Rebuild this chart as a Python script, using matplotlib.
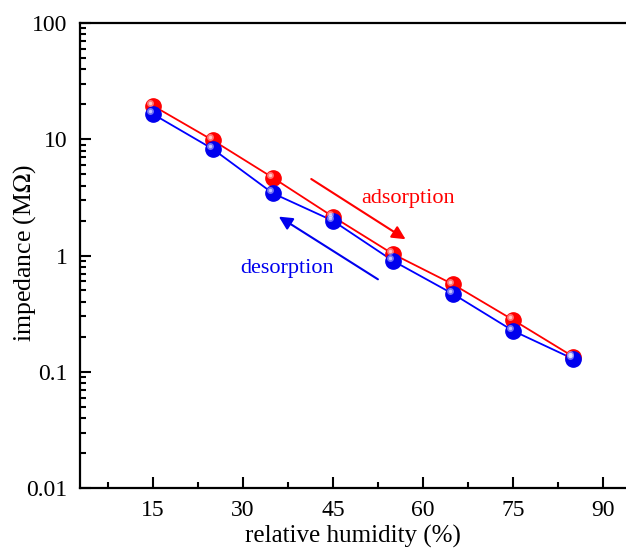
import numpy as np
import matplotlib
matplotlib.use("Agg")
import matplotlib.pyplot as plt
import matplotlib.transforms as mtransforms
from matplotlib.ticker import FixedLocator, NullFormatter

plt.rcParams['font.family'] = ['Liberation Serif', 'DejaVu Serif']
plt.rcParams['mathtext.fontset'] = 'stix'

# data
rh = [15, 25, 35, 45, 55, 65, 75, 85]
z_ads = [19.5, 9.8, 4.67, 2.16, 1.03, 0.565, 0.279, 0.135]
z_des = [16.5, 8.25, 3.43, 1.99, 0.90, 0.467, 0.225, 0.129]
xticks = [15, 30, 45, 60, 75, 90]
yticks = [0.01, 0.1, 1, 10, 100]
ylabels = ['0.01', '0.1', '1', '10', '100']

fig = plt.figure(figsize=(6.26, 5.49), dpi=100)
ax = fig.add_axes([80/626, 1 - 488/549, 1 - 80/626, (488 - 23)/549])

def balls(x, y, col):
    # ball-looking marker: solid disc plus a small pale highlight
    ax.plot(x, y, 'o', ms=11, color=col, mec=col, zorder=3)
    off = mtransforms.ScaledTranslation(-2/72, 2/72, fig.dpi_scale_trans)
    ax.plot(x, y, 'o', ms=5, color='white', mec='none', alpha=0.45,
            transform=ax.transData + off, zorder=4)
    ax.plot(x, y, 'o', ms=2.5, color='white', mec='none', alpha=0.6,
            transform=ax.transData + off, zorder=4)

ax.plot(rh, z_ads, '-', color='#ff0000', lw=1.3, zorder=2)
ax.plot(rh, z_des, '-', color='#0000ff', lw=1.3, zorder=2)
balls(rh, z_ads, '#ff0000')
balls(rh, z_des, '#0000ee')

ax.set_yscale('log')
ax.set_xlim(2.9, 93.8)
ax.set_ylim(0.01, 100)

ax.xaxis.set_major_locator(FixedLocator(xticks))
ax.xaxis.set_minor_locator(FixedLocator([7.5, 22.5, 37.5, 52.5, 67.5, 82.5]))
ax.set_yticks(yticks)
ax.set_yticklabels(ylabels)
ax.yaxis.set_minor_formatter(NullFormatter())

ax.tick_params(which='both', direction='in', top=False, right=False,
               width=1.5, labelsize=17, pad=9)
ax.tick_params(which='major', length=8)
ax.tick_params(which='minor', length=4.5)

for s in ['left', 'bottom', 'top']:
    ax.spines[s].set_linewidth(1.6)
ax.spines['right'].set_visible(False)

ax.set_xlabel('relative humidity (%)', fontsize=18)
ax.set_ylabel('impedance (M$\\Omega$)', fontsize=18.5)
ax.xaxis.set_label_coords(0.5, -0.08)
ax.yaxis.set_label_coords(-0.077, 0.505)

# arrows and labels
ax.annotate('', xy=(57.1, 1.38), xytext=(41.4, 4.55),
            arrowprops=dict(arrowstyle='-|>', color='#ff0000', lw=1.5,
                            mutation_scale=20, shrinkA=0, shrinkB=0))
ax.annotate('', xy=(36.0, 2.16), xytext=(52.5, 0.624),
            arrowprops=dict(arrowstyle='-|>', color='#0000ee', lw=1.5,
                            mutation_scale=20, shrinkA=0, shrinkB=0))
ax.text(57.6, 3.12, 'adsorption', color='#ff0000', fontsize=16,
        ha='center', va='center')
ax.text(37.4, 0.776, 'desorption', color='#0000ee', fontsize=16,
        ha='center', va='center')

fig.savefig('out.png', dpi=100)
